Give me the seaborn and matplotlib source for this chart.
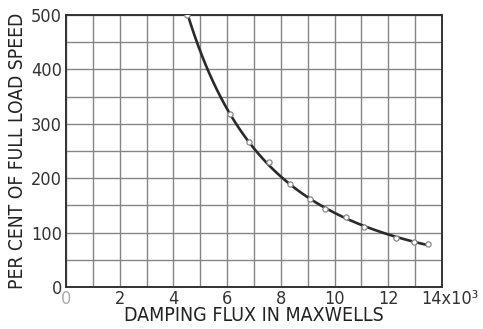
import numpy as np
import pandas as pd
import seaborn as sns
import matplotlib
matplotlib.use("Agg")
import matplotlib.pyplot as plt
from matplotlib.transforms import ScaledTranslation

# Data (flux in thousands of maxwells, speed in % of full load)
flux = [4.52, 6.10, 6.81, 7.56, 8.33, 9.10, 9.65, 10.43, 11.09, 12.29, 12.97, 13.49]
speed = [500, 318, 267, 230, 189, 161, 143, 128, 110, 90, 83, 79]
x_ticks = [0, 2, 4, 6, 8, 10, 12, 14]
x_tick_labels = ["0", "2", "4", "6", "8", "10", "12", "14x10³"]
y_ticks = [0, 100, 200, 300, 400, 500]
y_tick_labels = ["0", "100", "200", "300", "400", "500"]

df = pd.DataFrame({"flux": flux, "speed": speed})

# smooth drawing of the hand-faired curve through the read points (log-log quadratic)
coef = np.polyfit(np.log(flux), np.log(speed), 2)
xs = np.linspace(min(flux), max(flux), 200)
curve = pd.DataFrame({"flux": xs, "speed": np.exp(np.polyval(coef, np.log(xs)))})

sns.set_theme(style="white")
plt.rcParams["font.family"] = ["DejaVu Sans"]
plt.rcParams["font.stretch"] = "condensed"

fig = plt.figure(figsize=(4.83, 3.29), dpi=100)
ax = fig.add_axes([66 / 483, 1 - 287 / 329, (442 - 66) / 483, (287 - 15) / 329])

sns.lineplot(data=curve, x="flux", y="speed", ax=ax, color="#2a2a2a", lw=1.9, zorder=3)
sns.scatterplot(data=df, x="flux", y="speed", ax=ax, marker="o", s=14,
                facecolor="white", edgecolor="#888888", linewidth=0.9, zorder=4)

ax.set_xlim(0, 14)
ax.set_ylim(0, 500)
ax.set_xticks(x_ticks)
ax.set_xticks(np.arange(1, 14, 2), minor=True)
ax.set_yticks(y_ticks)
ax.set_yticks(np.arange(50, 500, 100), minor=True)
ax.grid(True, which="both", color="#858585", lw=1.0)
ax.set_axisbelow(True)
ax.set_xticklabels(x_tick_labels)
ax.set_yticklabels(y_tick_labels)
ax.tick_params(axis="both", which="both", length=0, labelsize=13, colors="#333333", pad=3)
ax.tick_params(axis="x", pad=2)
xl = ax.get_xticklabels()
xl[0].set_color("#aaaaaa")
xl[-1].set_transform(xl[-1].get_transform() + ScaledTranslation(8 / 100, 0, fig.dpi_scale_trans))

for s in ax.spines.values():
    s.set_color("#333333")
    s.set_linewidth(1.4)

ax.set_xlabel("DAMPING FLUX IN MAXWELLS", fontsize=14, color="#222222", labelpad=-1)
ax.set_ylabel("PER CENT OF FULL LOAD SPEED", fontsize=13.8, color="#222222", labelpad=3)

fig.savefig("out.png", dpi=100, facecolor="white")
